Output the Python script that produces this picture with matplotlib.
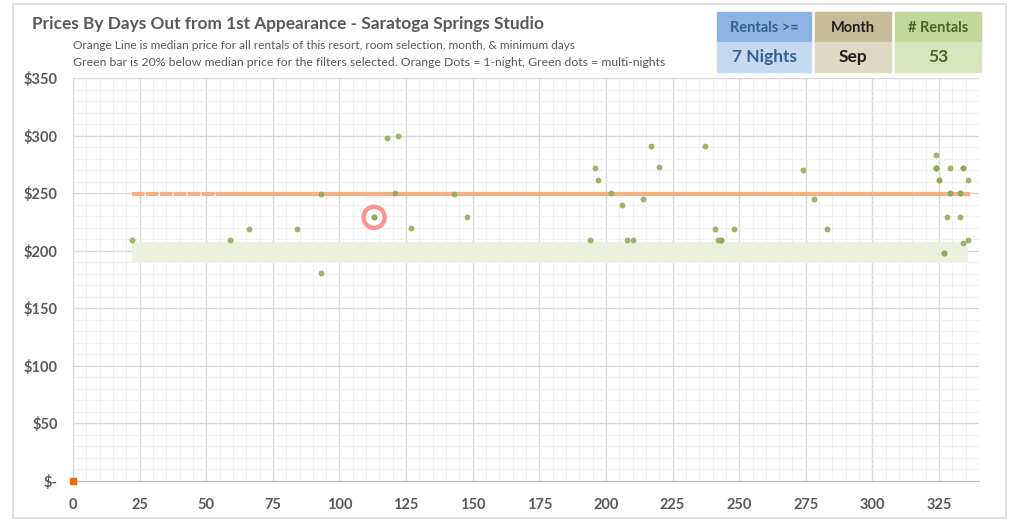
import matplotlib.pyplot as plt
from matplotlib.patches import Rectangle

# days out vs price, multi-night rentals (green dots)
days = [22, 59, 66, 84, 93, 93, 113, 113, 118, 122, 121, 127, 143, 148,
        194, 196, 197, 202, 206, 208, 210, 214, 217, 220, 237, 241, 242, 243, 243,
        248, 274, 278, 283,
        324, 324, 324, 324, 329, 334, 334, 325, 325, 336, 329, 329, 333, 333,
        328, 333, 334, 336, 327, 327]
prices = [209, 209, 219, 219, 249, 181, 229, 229, 298, 300, 250, 220, 249, 229,
          209, 272, 261, 250, 240, 209, 209, 245, 291, 273, 291, 219, 209, 209, 209,
          219, 270, 245, 219,
          283, 272, 272, 272, 272, 272, 272, 261, 261, 261, 250, 250, 250, 250,
          229, 229, 207, 209, 198, 198]

# 1-night rentals (orange dots)
one_night_days = [0]
one_night_prices = [0]

median_price = 249
first_day = 22
last_day = 336
dash_until = 56
highlight_day = 113
highlight_price = 229

rentals_min = "7 Nights"
month = "Sep"
n_rentals = str(len(days))

grey = "#595959"
fig = plt.figure(figsize=(10.18, 5.29), dpi=100)
fig.patches.append(Rectangle((13 / 1018, 11 / 529), 993 / 1018, 514 / 529,
                             transform=fig.transFigure, fill=False,
                             edgecolor="#D9D9D9", linewidth=1.2))

ax = fig.add_axes([73 / 1018, 48 / 529, 906 / 1018, 403 / 529])
ax.set_xlim(0, 340)
ax.set_ylim(0, 350)
ax.set_xticks(range(0, 326, 25))
ax.set_xticks(range(0, 341, 5), minor=True)
ax.set_yticks(range(0, 351, 50))
ax.set_yticks(range(0, 351, 10), minor=True)
ax.set_yticklabels(["$-"] + ["$%d" % v for v in range(50, 351, 50)])
ax.grid(which="major", color="#D9D9D9", linewidth=1.0)
ax.grid(which="minor", color="#F0F0F0", linewidth=0.8)
ax.set_axisbelow(True)
for s in ["top", "right"]:
    ax.spines[s].set_visible(False)
ax.spines["left"].set_color("#D9D9D9")
ax.spines["bottom"].set_color("#BFBFBF")
ax.tick_params(which="both", length=0)
ax.tick_params(axis="x", pad=12)
ax.tick_params(axis="y", pad=11)
for lab in ax.get_xticklabels() + ax.get_yticklabels():
    lab.set_fontweight("bold")
    lab.set_color(grey)
    lab.set_fontsize(10.5)
    lab.set_family("Lato")

# green band 20% below median
band = median_price * 0.8
ax.fill_between([first_day, last_day], band - 8.7, band + 8.7,
                color="#EBF1DE", linewidth=0, zorder=2)

# median line
ax.plot([first_day, dash_until], [median_price, median_price], color="#F4B183",
        linewidth=3, dashes=(3, 0.35), zorder=3)
ax.plot([dash_until, last_day], [median_price, median_price], color="#F4B183",
        linewidth=3, zorder=3)

ax.scatter(days, prices, s=18, color="#8CAA55", alpha=0.85, linewidths=0, zorder=4)
ax.scatter(one_night_days, one_night_prices, s=22, marker="s", color="#E46C0A",
           zorder=5, clip_on=False)
ax.scatter([highlight_day], [highlight_price], s=230, facecolors="none",
           edgecolors="#FF9393", linewidths=3.2, zorder=5)

fig.text(32 / 1018, 1 - 24 / 529, "Prices By Days Out from 1st Appearance - Saratoga Springs Studio",
         fontsize=12.4, fontweight="bold", color=grey, family="Lato", va="center")
fig.text(73 / 1018, 1 - 46 / 529,
         "Orange Line is median price for all rentals of this resort, room selection, month, & minimum days",
         fontsize=8.6, color=grey, family="Lato", va="center")
fig.text(73 / 1018, 1 - 62 / 529,
         "Green bar is 20% below median price for the filters selected. Orange Dots = 1-night, Green dots = multi-nights",
         fontsize=8.8, color=grey, family="Lato", va="center")

boxes = [
    (717, 94, "Rentals >=", rentals_min, "#8DB4E2", "#C5D9F1", "#366092"),
    (815, 76, "Month", month, "#C4BD97", "#DDD9C4", "#1F1F1F"),
    (895, 86, "# Rentals", n_rentals, "#C4D79B", "#D8E4BC", "#4F6228"),
]
for x0, w, head, val, c1, c2, tc in boxes:
    fig.patches.append(Rectangle((x0 / 1018, 1 - 42 / 529), w / 1018, 30 / 529,
                                 transform=fig.transFigure, color=c1))
    fig.patches.append(Rectangle((x0 / 1018, 1 - 72 / 529), w / 1018, 30 / 529,
                                 transform=fig.transFigure, color=c2))
    fig.text((x0 + w / 2) / 1018, 1 - 28 / 529, head, ha="center", va="center",
             fontsize=10.5, fontweight="bold", color=tc, family="Lato")
    fig.text((x0 + w / 2) / 1018, 1 - 57 / 529, val, ha="center", va="center",
             fontsize=12.5, fontweight="bold", color=tc, family="Lato")

fig.savefig("out.png", dpi=100)
